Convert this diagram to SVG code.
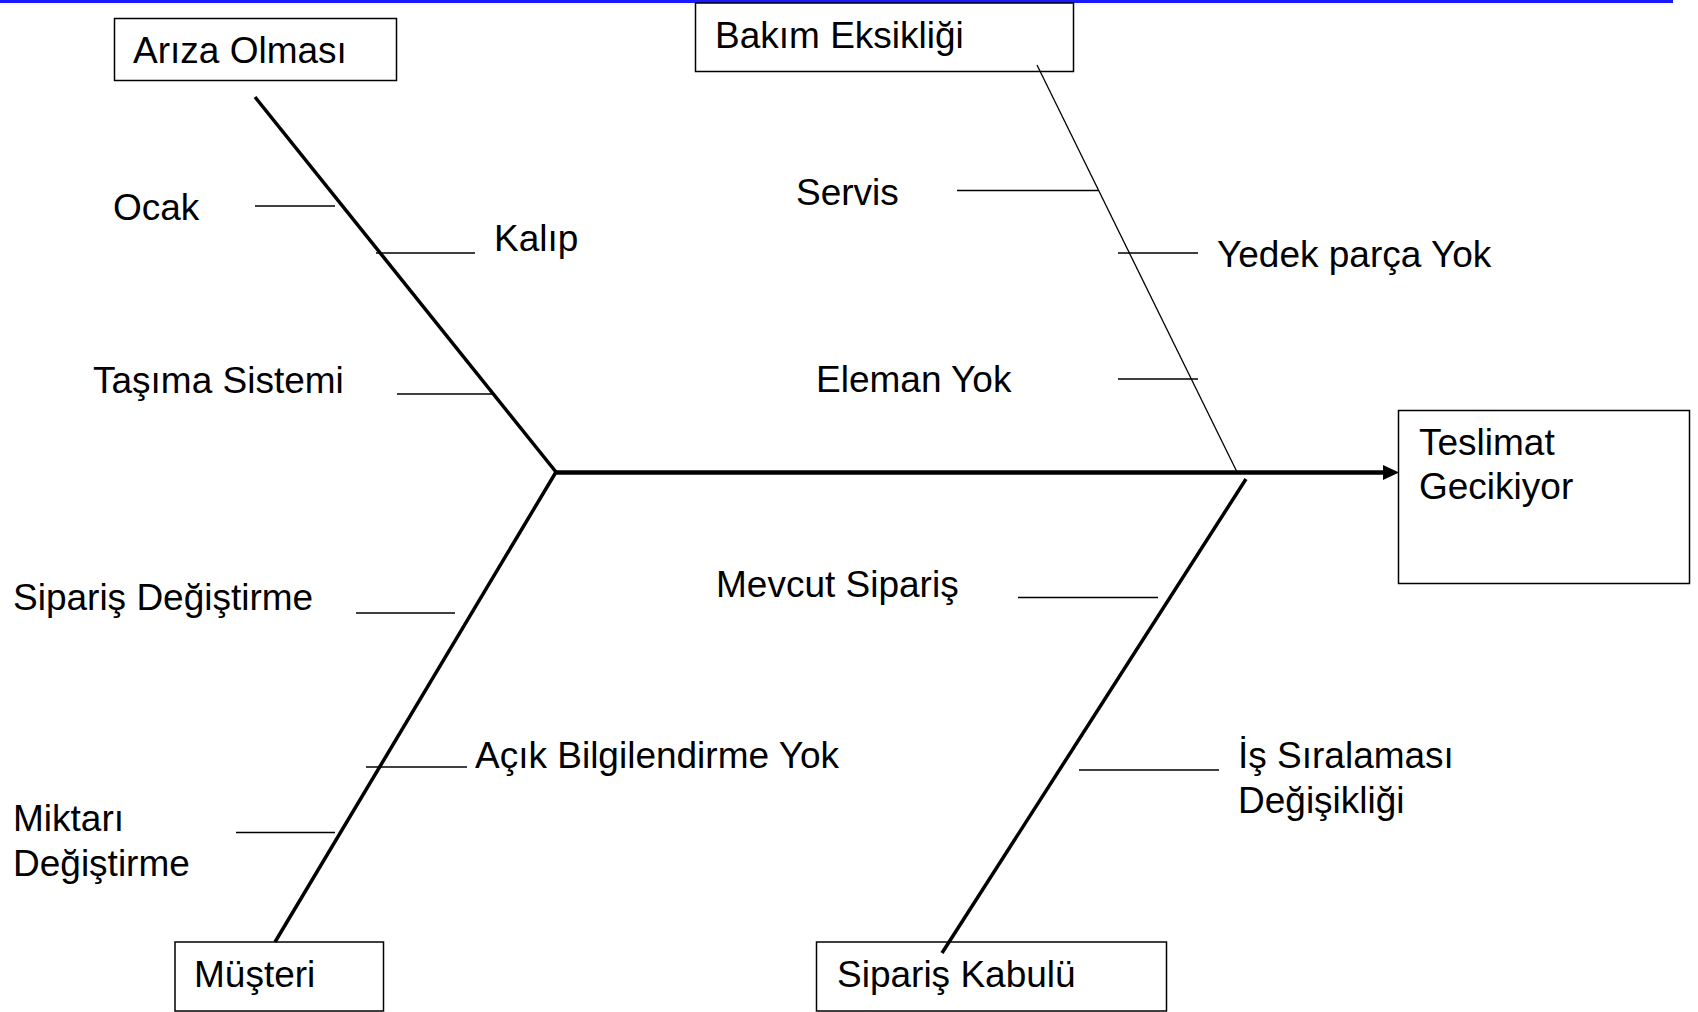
<svg xmlns="http://www.w3.org/2000/svg" width="1698" height="1012" viewBox="0 0 1698 1012">
<style>
.t{font-family:"Liberation Sans",Arial,sans-serif;font-size:37px;fill:#000}
.box{fill:none;stroke:#000;stroke-width:1.5}
.thick{stroke:#000;stroke-width:3.5;fill:none}
.spine{stroke:#000;stroke-width:4.5;fill:none}
.thin{stroke:#000;stroke-width:1.3;fill:none}
.sub{stroke:#000;stroke-width:1.5;fill:none}
</style>
<rect width="1698" height="1012" fill="#fff"/>
<rect x="0" y="0" width="1673" height="3" fill="#1a1aff"/>
<g id="connectors">
<line class="thick" x1="255" y1="97" x2="556" y2="472"/>
<line class="thick" x1="556" y1="472" x2="275" y2="942"/>
<line class="thick" x1="1246" y1="479" x2="942" y2="953"/>
<line class="thin" x1="1037" y1="65" x2="1237" y2="472"/>
<line class="spine" x1="554" y1="472.5" x2="1384" y2="472.5"/>
<polygon points="1383,465 1399,472.5 1383,480" fill="#000"/>
<line class="sub" x1="255" y1="206" x2="335" y2="206"/>
<line class="sub" x1="376" y1="253" x2="475" y2="253"/>
<line class="sub" x1="397" y1="394" x2="493" y2="394"/>
<line class="sub" x1="957" y1="190.5" x2="1098" y2="190.5"/>
<line class="sub" x1="1118" y1="253" x2="1198" y2="253"/>
<line class="sub" x1="1118" y1="379" x2="1198" y2="379"/>
<line class="sub" x1="356" y1="613" x2="455" y2="613"/>
<line class="sub" x1="366" y1="767" x2="467" y2="767"/>
<line class="sub" x1="236" y1="832.5" x2="335" y2="832.5"/>
<line class="sub" x1="1018" y1="597.5" x2="1158" y2="597.5"/>
<line class="sub" x1="1079" y1="770" x2="1219" y2="770"/>
</g>
<g id="ariza-olmasi"><rect class="box" x="114.5" y="18.5" width="282" height="62"/><text class="t" x="133" y="63">Arıza Olması</text></g>
<g id="bakim-eksikligi"><rect class="box" x="695.5" y="3" width="378" height="68.5"/><text class="t" x="715" y="48">Bakım Eksikliği</text></g>
<g id="teslimat"><rect class="box" x="1398.5" y="410.5" width="291" height="173"/><text class="t" x="1419" y="455">Teslimat</text><text class="t" x="1419" y="499">Gecikiyor</text></g>
<g id="musteri"><rect class="box" x="175" y="942" width="208.5" height="69"/><text class="t" x="194" y="987">Müşteri</text></g>
<g id="siparis-kabulu"><rect class="box" x="816.5" y="942" width="350" height="69"/><text class="t" x="837" y="987">Sipariş Kabulü</text></g>
<g id="ocak"><text class="t" x="113" y="220">Ocak</text></g>
<g id="kalip"><text class="t" x="494" y="251">Kalıp</text></g>
<g id="tasima"><text class="t" x="93" y="393">Taşıma Sistemi</text></g>
<g id="servis"><text class="t" x="796" y="205">Servis</text></g>
<g id="yedek"><text class="t" x="1217" y="267">Yedek parça Yok</text></g>
<g id="eleman"><text class="t" x="816" y="392">Eleman Yok</text></g>
<g id="siparis-degistirme"><text class="t" x="13" y="610">Sipariş Değiştirme</text></g>
<g id="mevcut"><text class="t" x="716" y="597">Mevcut Sipariş</text></g>
<g id="acik"><text class="t" x="475" y="768">Açık Bilgilendirme Yok</text></g>
<g id="is-siralamasi"><text class="t" x="1238" y="768">İş Sıralaması</text><text class="t" x="1238" y="813">Değişikliği</text></g>
<g id="miktari"><text class="t" x="13" y="831">Miktarı</text><text class="t" x="13" y="876">Değiştirme</text></g>
</svg>
